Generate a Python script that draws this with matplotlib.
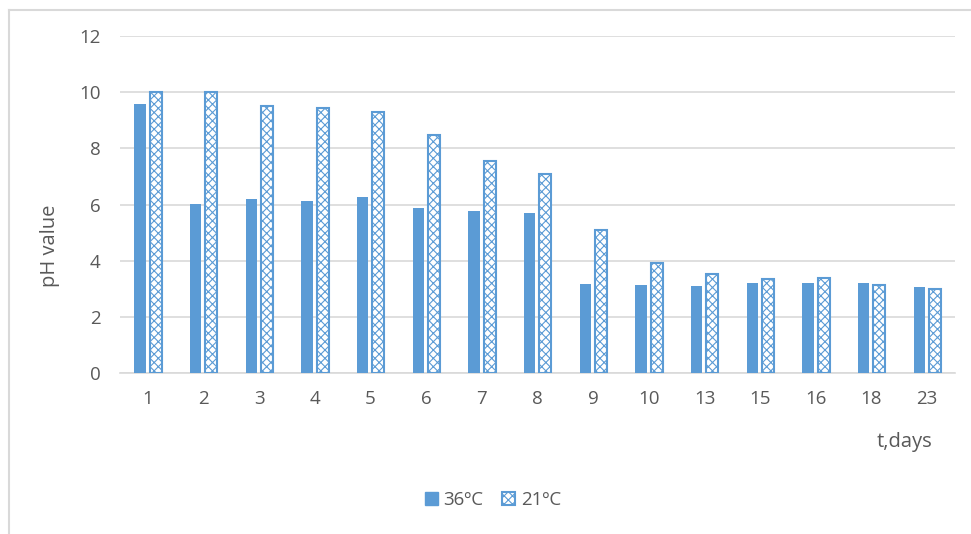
import matplotlib.pyplot as plt
import numpy as np
from matplotlib.lines import Line2D

# данные с графика
days = ['1', '2', '3', '4', '5', '6', '7', '8', '9', '10', '13', '15', '16', '18', '23']
ph_36 = [9.58, 6.02, 6.19, 6.14, 6.27, 5.86, 5.77, 5.69, 3.18, 3.14, 3.09, 3.21, 3.21, 3.21, 3.05]
ph_21 = [9.99, 9.99, 9.52, 9.43, 9.31, 8.48, 7.56, 7.08, 5.08, 3.91, 3.54, 3.33, 3.37, 3.12, 2.98]

blue = '#5B9BD5'
grey = '#595959'
fs = 13.5
plt.rcParams['font.family'] = ['Open Sans', 'DejaVu Sans']
plt.rcParams['hatch.linewidth'] = 0.8

W, H = 971, 534
fig = plt.figure(figsize=(W / 100, H / 100), dpi=100)
ax = fig.add_axes([120 / W, 1 - 373 / H, 835 / W, 337 / H])

x = np.arange(len(days))
ax.bar(x - 0.14, ph_36, width=0.2, color=blue, zorder=3)
ax.bar(x + 0.14, ph_21, width=0.22, color='white', edgecolor=blue,
       hatch='xxxx', linewidth=1.5, zorder=3)

ax.set_xlim(-0.5, len(days) - 0.5)
ax.set_ylim(0, 12)
ax.set_yticks(range(0, 13, 2))
ax.set_xticks(x)
ax.set_xticklabels(days)
ax.yaxis.grid(True, color='#D9D9D9', linewidth=1.2, zorder=0)
for s in ['top', 'right', 'left']:
    ax.spines[s].set_visible(False)
ax.spines['bottom'].set_color('#D9D9D9')
ax.spines['bottom'].set_linewidth(1.2)
ax.tick_params(length=0, colors=grey, labelsize=fs)
ax.tick_params(axis='y', pad=14)
ax.tick_params(axis='x', pad=12)

fig.text(50 / W, 1 - 246 / H, 'pH value', rotation=90, ha='center', va='center',
         color=grey, fontsize=14.5)
fig.text(904 / W, 1 - 442 / H, 't,days', ha='center', va='center', color=grey, fontsize=14.5)

# легенда
handles = [plt.Rectangle((0, 0), 1, 1, color=blue),
           plt.Rectangle((0, 0), 1, 1, facecolor='white', edgecolor=blue, hatch='xxxx', linewidth=1.5)]
fig.legend(handles, ['36ºC', '21ºC'], loc='center', bbox_to_anchor=(493 / W, 1 - 500 / H),
           ncol=2, frameon=False, fontsize=fs, labelcolor=grey, handlelength=0.7,
           handleheight=0.7, handletextpad=0.3, columnspacing=1.0)

# рамка
fig.add_artist(Line2D([9 / W, 9 / W], [0, 1 - 10 / H], color='#D9D9D9', linewidth=1.5))
fig.add_artist(Line2D([9 / W, 1], [1 - 10 / H, 1 - 10 / H], color='#D9D9D9', linewidth=1.5))

fig.savefig('out.png', dpi=100)
